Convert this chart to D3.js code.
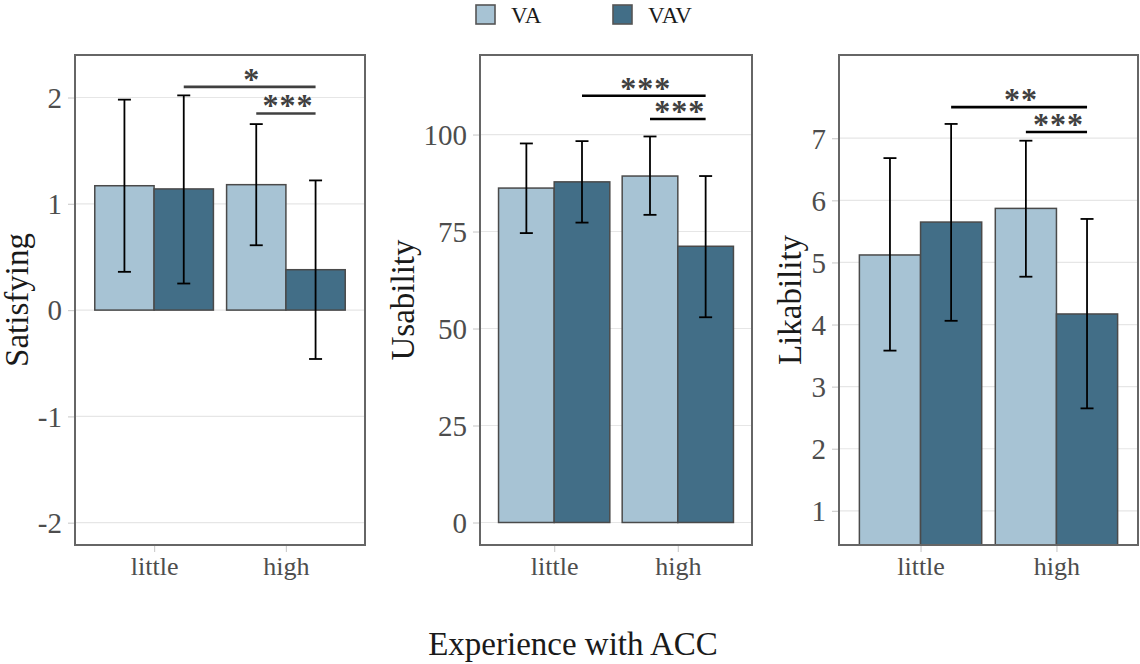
<!DOCTYPE html>
<html>
<head>
<meta charset="utf-8">
<script src="https://cdn.jsdelivr.net/npm/d3@7"></script>
<style>
  body { margin: 0; background: #fff; }
  svg { display: block; font-family: "Liberation Serif", "DejaVu Serif", serif; }
</style>
</head>
<body>
<div id="chart"></div>
<script>
// groups on the x axis, and the two conditions
const groups = ["little", "high"];
const series = ["VA", "VAV"];
const colors = ["#a7c3d4", "#426e87"];

// bar order: little-VA, little-VAV, high-VA, high-VAV
const satMean = [1.17, 1.14, 1.18, 0.38];
const satLow  = [0.36, 0.25, 0.61, -0.46];
const satHigh = [1.98, 2.02, 1.75, 1.22];
const satTicks = [-2, -1, 0, 1, 2];
const satSig = [[1, 3, 2.10, "*"], [2, 3, 1.85, "***"]];

const usaMean = [86.2, 87.8, 89.3, 71.2];
const usaLow  = [74.6, 77.3, 79.3, 52.9];
const usaHigh = [97.7, 98.3, 99.5, 89.3];
const usaTicks = [0, 25, 50, 75, 100];
const usaSig = [[1, 3, 110.0, "***"], [2, 3, 104.0, "***"]];

const likMean = [5.12, 5.65, 5.87, 4.17];
const likLow  = [3.58, 4.06, 4.77, 2.65];
const likHigh = [6.68, 7.23, 6.96, 5.70];
const likTicks = [1, 2, 3, 4, 5, 6, 7];
const likSig = [[1, 3, 7.50, "**"], [2, 3, 7.10, "***"]];

const W = 1140, H = 664;
const plotTop = 55, plotBottom = 545;

let panels = [
    {title: "Satisfying", mean: satMean, low: satLow, high: satHigh, ticks: satTicks, sig: satSig,
     domain: [-2.21, 2.40], left: 75, right: 365, titleX: 28, sigColor: "#404040"},
    {title: "Usability", mean: usaMean, low: usaLow, high: usaHigh, ticks: usaTicks, sig: usaSig,
     domain: [-5.8, 120.5], left: 480, right: 752, titleX: 414, sigColor: "#000"},
    {title: "Likability", mean: likMean, low: likLow, high: likHigh, ticks: likTicks, sig: likSig,
     domain: [0.45, 8.34], left: 839, right: 1138, titleX: 801, sigColor: "#000"}
];

let svg = d3.select("#chart").append("svg")
    .attr("width", W)
    .attr("height", H);

let barX = i => Math.floor(i / 2) + 1 + (i % 2 === 0 ? -0.225 : 0.225);

panels.forEach((p, k) => {
    let x = d3.scaleLinear().domain([0.4, 2.6]).range([p.left, p.right]);
    let y = d3.scaleLinear().domain(p.domain).range([plotBottom, plotTop]);
    let g = svg.append("g");

    g.append("clipPath").attr("id", "clip" + k)
        .append("rect")
        .attr("x", p.left).attr("y", plotTop)
        .attr("width", p.right - p.left).attr("height", plotBottom - plotTop);

    // grid
    g.selectAll(".grid").data(p.ticks).join("line")
        .attr("x1", p.left).attr("x2", p.right)
        .attr("y1", d => y(d)).attr("y2", d => y(d))
        .attr("stroke", "#e6e6e6").attr("stroke-width", 1.2);

    // y axis (plain hyphen for negatives, like the original)
    let yAxis = g.append("g")
        .attr("transform", `translate(${p.left},0)`)
        .call(d3.axisLeft(y).tickValues(p.ticks).tickSize(7).tickPadding(6).tickFormat(d => String(d)));
    yAxis.select(".domain").remove();
    yAxis.selectAll("line").attr("stroke", "#cfcfcf").attr("stroke-width", 1.2);
    yAxis.selectAll("text").attr("fill", "#4d4d4d").style("font-size", "29px")
        .style("font-family", "Liberation Serif").attr("dy", "0.34em");

    // x axis
    let xAxis = g.append("g")
        .attr("transform", `translate(0,${plotBottom})`)
        .call(d3.axisBottom(x).tickValues([1, 2]).tickSize(7).tickPadding(5)
            .tickFormat(d => groups[d - 1]));
    xAxis.select(".domain").remove();
    xAxis.selectAll("line").attr("stroke", "#cfcfcf").attr("stroke-width", 1.2);
    xAxis.selectAll("text").attr("fill", "#4d4d4d").style("font-size", "26px")
        .style("font-family", "Liberation Serif").attr("dy", "0.68em");

    // bars
    let bw = x(1.45) - x(1);
    g.append("g").attr("clip-path", `url(#clip${k})`)
        .selectAll("rect").data(p.mean).join("rect")
        .attr("x", (d, i) => x(barX(i)) - bw / 2)
        .attr("width", bw)
        .attr("y", d => y(Math.max(0, d)))
        .attr("height", d => Math.abs(y(0) - y(d)))
        .attr("fill", (d, i) => colors[i % 2])
        .attr("stroke", "#4a4a4a").attr("stroke-width", 1.5);

    // error bars
    let eb = g.append("g").attr("stroke", "#000").attr("stroke-width", 1.8);
    p.mean.forEach((m, i) => {
        let cx = x(barX(i));
        eb.append("line").attr("x1", cx).attr("x2", cx)
            .attr("y1", y(p.low[i])).attr("y2", y(p.high[i]));
        eb.append("line").attr("x1", cx - 6.5).attr("x2", cx + 6.5)
            .attr("y1", y(p.low[i])).attr("y2", y(p.low[i]));
        eb.append("line").attr("x1", cx - 6.5).attr("x2", cx + 6.5)
            .attr("y1", y(p.high[i])).attr("y2", y(p.high[i]));
    });

    // significance brackets
    p.sig.forEach(s => {
        let x1 = x(barX(s[0])), x2 = x(barX(s[1]));
        g.append("line")
            .attr("x1", x1).attr("x2", x2)
            .attr("y1", y(s[2])).attr("y2", y(s[2]))
            .attr("stroke", p.sigColor).attr("stroke-width", 2.6);
        g.append("text")
            .attr("x", (x1 + x2) / 2 + 2).attr("y", y(s[2]) + 3)
            .attr("text-anchor", "middle")
            .attr("fill", "#404040")
            .style("font-size", "32px").style("font-weight", "bold")
            .style("letter-spacing", "1px")
            .text(s[3]);
    });

    // frame
    g.append("rect")
        .attr("x", p.left).attr("y", plotTop)
        .attr("width", p.right - p.left).attr("height", plotBottom - plotTop)
        .attr("fill", "none").attr("stroke", "#666").attr("stroke-width", 2);

    // y title
    g.append("text")
        .attr("transform", `translate(${p.titleX},${(plotTop + plotBottom) / 2}) rotate(-90)`)
        .attr("text-anchor", "middle")
        .attr("fill", "#1a1a1a")
        .style("font-size", "33px")
        .text(p.title);
});

// x title
svg.append("text")
    .attr("x", 573).attr("y", 655)
    .attr("text-anchor", "middle")
    .attr("fill", "#1a1a1a")
    .style("font-size", "33px")
    .text("Experience with ACC");

// legend
let legend = svg.append("g");
let legX = [476, 613];
series.forEach((s, i) => {
    legend.append("rect")
        .attr("x", legX[i]).attr("y", 5)
        .attr("width", 19).attr("height", 19)
        .attr("fill", colors[i]).attr("stroke", "#555").attr("stroke-width", 1.6);
    legend.append("text")
        .attr("x", legX[i] + 35).attr("y", 23)
        .attr("fill", "#1a1a1a")
        .style("font-size", "23px")
        .text(s);
});
</script>
</body>
</html>
